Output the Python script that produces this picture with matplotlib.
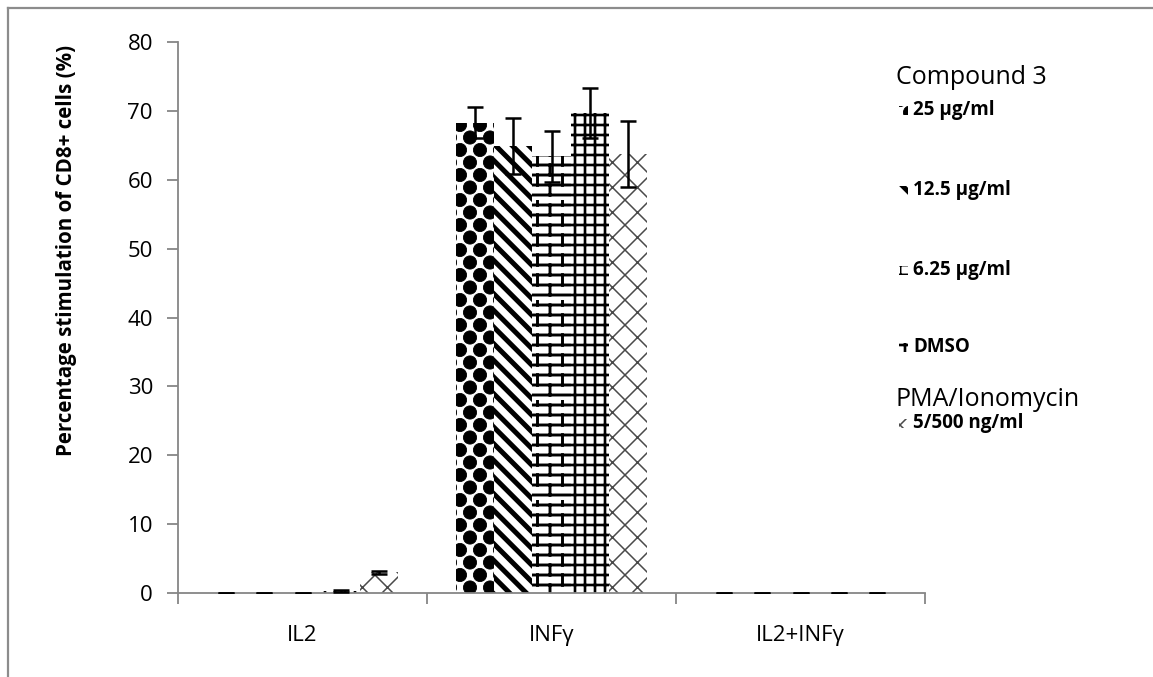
import warnings
import numpy as np
import matplotlib
matplotlib.use("Agg")
import matplotlib.pyplot as plt
import matplotlib.hatch as mhatch
from matplotlib.path import Path
from matplotlib.patches import Rectangle
from matplotlib.lines import Line2D

warnings.filterwarnings("ignore")

# ---- data ----
categories = ["IL2", "INF\u03b3", "IL2+INF\u03b3"]
series_names = ["25 \u00b5g/ml", "12.5 \u00b5g/ml", "6.25 \u00b5g/ml", "DMSO", "5/500 ng/ml"]
values = [
    [0.0, 68.3, 0.0],   # 25 ug/ml
    [0.0, 64.9, 0.0],   # 12.5 ug/ml
    [0.0, 63.4, 0.0],   # 6.25 ug/ml
    [0.3, 69.7, 0.0],   # DMSO
    [3.0, 63.7, 0.0],   # PMA/Ionomycin
]
errors = [
    [0.0, 2.3, 0.0],
    [0.0, 4.0, 0.0],
    [0.0, 3.7, 0.0],
    [0.1, 3.6, 0.0],
    [0.2, 4.8, 0.0],
]
y_ticks = [0, 10, 20, 30, 40, 50, 60, 70, 80]


# ---- custom fill patterns (one hatch tile = 1 unit square) ----
class SegmentHatch(mhatch.HatchPatternBase):
    key = None

    def __init__(self, hatch, density):
        self.segs = self.segments() if (self.key and self.key in hatch) else []
        self.num_vertices = 2 * len(self.segs)

    def segments(self):
        return []

    def set_vertices_and_codes(self, vertices, codes):
        for j, (p, q) in enumerate(self.segs):
            vertices[2 * j] = p
            vertices[2 * j + 1] = q
            codes[2 * j] = Path.MOVETO
            codes[2 * j + 1] = Path.LINETO


class BrickHatch(SegmentHatch):
    """Brick wall: horizontal courses with staggered joints."""
    key = "b"

    def segments(self):
        rows, per_row = 10, 4
        h, w = 1.0 / rows, 1.0 / per_row
        segs = []
        for r in range(rows):
            y0 = r * h + h / 2
            segs.append(((0.0, y0), (1.0, y0)))
            shift = 0.5 * w if r % 2 else 0.0
            for k in range(per_row):
                xj = k * w + shift
                segs.append(((xj, y0), (xj, y0 + h)))
        return segs


class GridHatch(SegmentHatch):
    """Square grid."""
    key = "g"

    def segments(self):
        n = 10
        segs = []
        for k in range(n):
            c = (k + 0.5) / n
            segs.append(((0.0, c), (1.0, c)))
            segs.append(((c, 0.0), (c, 1.0)))
        return segs


class LatticeHatch(SegmentHatch):
    """Open diagonal lattice."""
    key = "d"

    def segments(self):
        n = 4
        segs = []
        for k in range(-n, n):
            c = k / n
            segs.append(((0.0, c), (1.0, c + 1.0)))
            segs.append(((0.0, c + 1.0), (1.0, c)))
        return segs


class BallHatch(mhatch.HatchPatternBase):
    """Staggered rows of solid balls."""
    radius = 0.066

    def __init__(self, hatch, density):
        circ = Path.unit_circle()
        self.cv, self.cc = circ.vertices, circ.codes
        self.centers = []
        if "B" in hatch:
            for r in range(9):
                y = r * 0.125
                if r % 2 == 0:
                    self.centers += [(0.2 * k, y) for k in range(6)]
                else:
                    self.centers += [(0.1 + 0.2 * k, y) for k in range(5)]
        self.num_vertices = len(self.centers) * len(self.cv)

    def set_vertices_and_codes(self, vertices, codes):
        m = len(self.cv)
        for j, (cx, cy) in enumerate(self.centers):
            vertices[j * m:(j + 1) * m] = self.cv * self.radius + (cx, cy)
            codes[j * m:(j + 1) * m] = self.cc


mhatch._hatch_types.extend([BrickHatch, GridHatch, LatticeHatch, BallHatch])

plt.rcParams["font.family"] = ["Open Sans", "DejaVu Sans"]
plt.rcParams["hatch.linewidth"] = 2.0

W, H = 1153, 677
fig = plt.figure(figsize=(W / 100, H / 100), dpi=100)
ax = fig.add_axes([178 / W, 1 - 593 / H, (925 - 178) / W, (593 - 42) / H])

hatches = ["B", "\\\\", "b", "g", "d"]
hatch_lw = [0.6, 3.6, 2.1, 1.9, 1.1]
hatch_col = ["black", "black", "black", "black", "#4a4a4a"]

n = len(series_names)
group_w = 0.77
bw = group_w / n
x = np.arange(len(categories))

GRAY = "#868686"

for i in range(n):
    pos = x - group_w / 2 + bw * (i + 0.5)
    bars = ax.bar(pos, values[i], width=bw, color="white", edgecolor=hatch_col[i],
                  linewidth=0, hatch=hatches[i], zorder=2)
    for b in bars:
        if hasattr(b, "set_hatch_linewidth"):
            b.set_hatch_linewidth(hatch_lw[i])
    ax.errorbar(pos, values[i], yerr=errors[i], fmt="none", ecolor="black",
                elinewidth=1.8, capsize=5.5, capthick=1.8, zorder=3)

ax.set_xlim(-0.5, 2.5)
ax.set_ylim(0, 80)
ax.set_yticks(y_ticks)
ax.set_yticklabels([str(t) for t in y_ticks], fontsize=16)
ax.set_xticks([-0.5, 0.5, 1.5, 2.5])
ax.set_xticklabels([])
ax.set_xticks(x, minor=True)
ax.set_xticklabels(categories, minor=True, fontsize=16)
ax.tick_params(axis="x", which="minor", length=0, pad=23)
ax.tick_params(axis="x", which="major", direction="out", length=8, color=GRAY, width=1.3)
ax.tick_params(axis="y", direction="out", length=8, color=GRAY, width=1.3, pad=10)
for s in ["top", "right"]:
    ax.spines[s].set_visible(False)
for s in ["left", "bottom"]:
    ax.spines[s].set_color(GRAY)
    ax.spines[s].set_linewidth(1.3)

fig.text(67 / W, 1 - 250 / H, "Percentage stimulation of CD8+ cells (%)",
         rotation=90, fontsize=14.8, fontweight="bold", ha="center", va="center")

# ---- legend ----
fig.text(896 / W, 1 - 77 / H, "Compound 3", fontsize=18, ha="left", va="center")
fig.text(896 / W, 1 - 400 / H, "PMA/Ionomycin", fontsize=18, ha="left", va="center")
entry_y = [110, 190, 270, 347, 423]
for i, (name, yy) in enumerate(zip(series_names, entry_y)):
    sw = Rectangle((899 / W, 1 - (yy + 5) / H), 9 / W, 9 / H, transform=fig.transFigure,
                   facecolor="white", edgecolor=hatch_col[i], linewidth=0, hatch=hatches[i])
    if hasattr(sw, "set_hatch_linewidth"):
        sw.set_hatch_linewidth(hatch_lw[i])
    fig.add_artist(sw)
    fig.text(913 / W, 1 - yy / H, name, fontsize=13.5, fontweight="bold",
             ha="left", va="center")

# ---- outer frame (top and left edges) ----
fig.add_artist(Line2D([8 / W, 1.0], [1 - 8 / H, 1 - 8 / H], transform=fig.transFigure,
                      color="#8c8c8c", linewidth=1.6))
fig.add_artist(Line2D([8 / W, 8 / W], [0.0, 1 - 8 / H], transform=fig.transFigure,
                      color="#8c8c8c", linewidth=1.6))

fig.savefig("out.png", dpi=100)
